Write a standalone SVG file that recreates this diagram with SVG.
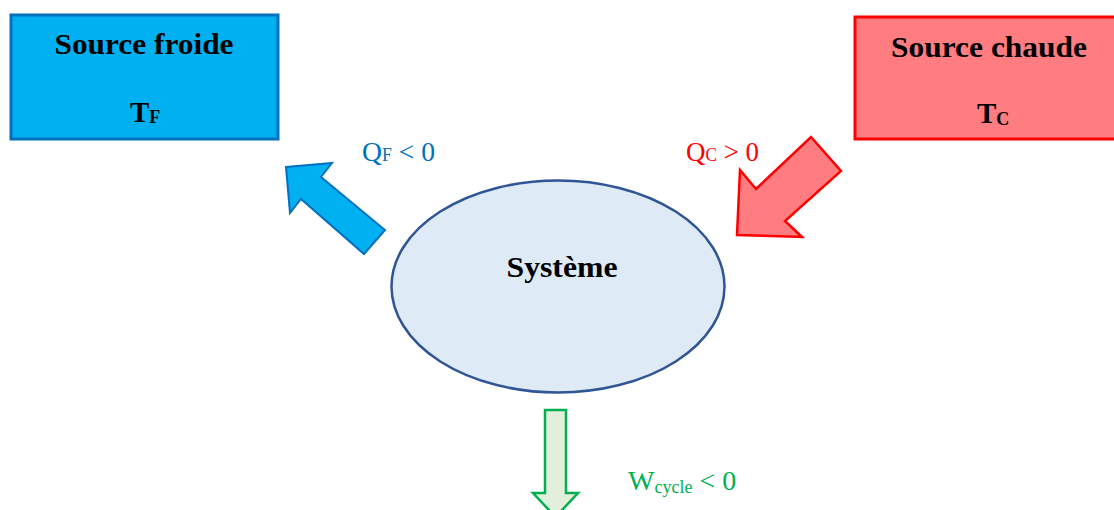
<svg xmlns="http://www.w3.org/2000/svg" width="1114" height="510" viewBox="0 0 1114 510">
<style>
.title{font-family:"Liberation Serif","DejaVu Serif",serif;font-weight:bold;font-size:29px;fill:#000}
.lbl{font-family:"Liberation Serif","DejaVu Serif",serif;font-size:28px}
</style>
<rect width="1114" height="510" fill="#fff"/>
<g id="source-froide">
<rect x="11" y="15" width="267" height="124" fill="#00B0F0" stroke="#0070C0" stroke-width="3"/>
<text class="title" x="144" y="54" text-anchor="middle" textLength="179" lengthAdjust="spacingAndGlyphs">Source froide</text>
<text class="title" x="130" y="122">T<tspan font-size="18" dy="1">F</tspan></text>
</g>
<g id="source-chaude">
<rect x="855" y="17" width="268" height="122" fill="#FF7C80" stroke="#FF0000" stroke-width="3"/>
<text class="title" x="989" y="57" text-anchor="middle" textLength="196" lengthAdjust="spacingAndGlyphs">Source chaude</text>
<text class="title" x="977" y="123">T<tspan font-size="18" dy="2">C</tspan></text>
</g>
<g id="systeme">
<ellipse cx="558" cy="286.5" rx="166.5" ry="106" fill="#DEEBF7" stroke="#2F5597" stroke-width="2.5"/>
<text class="title" x="562" y="277" text-anchor="middle" textLength="111" lengthAdjust="spacingAndGlyphs">Système</text>
</g>
<g id="connectors">
<polygon points="286,167 332,163 321,177 385,230 364,254 301,199 290,213" fill="#00B0F0" stroke="#0070C0" stroke-width="2" stroke-linejoin="miter"/>
<polygon points="811,137 841,171 785,221 802,237 737,235 740,170 756,189" fill="#FF7C80" stroke="#FF0000" stroke-width="2.5"/>
<polygon points="545,410 566,410 566,493 578,493 555.5,517 533,493 545,493" fill="#E2EFDA" stroke="#00B050" stroke-width="2.5"/>
</g>
<g id="labels">
<text class="lbl" x="362" y="161" fill="#0070C0" textLength="73" lengthAdjust="spacingAndGlyphs">Q<tspan font-size="18">F</tspan> &lt; 0</text>
<text class="lbl" x="686" y="161" fill="#FF0000" textLength="73" lengthAdjust="spacingAndGlyphs">Q<tspan font-size="18">C</tspan> &gt; 0</text>
<text class="lbl" x="628" y="490" fill="#00B050">W<tspan font-size="18" dy="3">cycle</tspan><tspan dy="-3"> &lt; 0</tspan></text>
</g>
</svg>
